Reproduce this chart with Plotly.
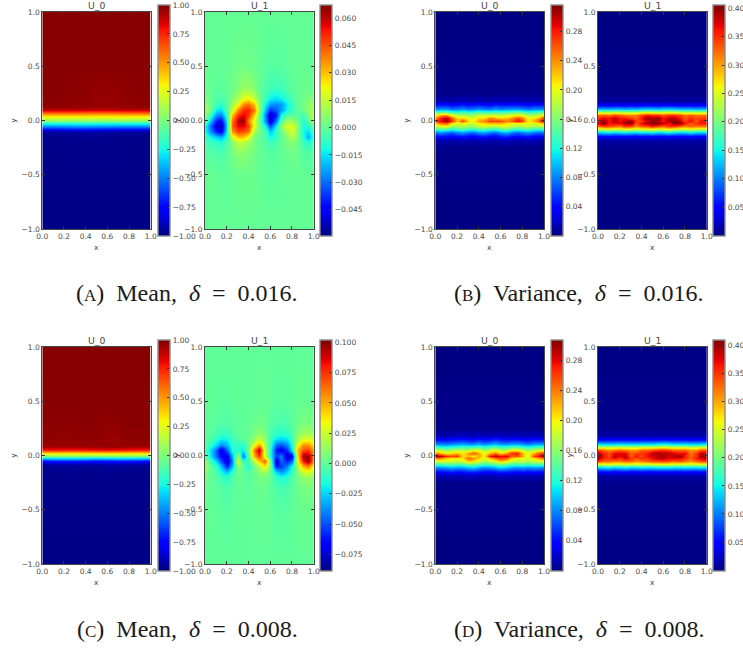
import numpy as np
import plotly.graph_objects as go

W, H = 743, 649

# ---------- coordinates of the sampled fields ----------
M_X = [0, .1, .2, .3, .4, .5, .6, .7, .8, .9, 1]
M_Y = [-1, -.5, -.2, -.15, -.125, -.1, -.075, -.05, -.025, 0, .025, .05, .075, .1, .125, .15, .2, .3, .5, 1]
F_X = [0, .05, .1, .15, .2, .25, .3, .35, .4, .45, .5, .55, .6, .65, .7, .75, .8, .85, .9, .95, 1]
U_Y = [-1, -.5, -.3, -.2, -.15, -.1, -.05, 0, .05, .1, .15, .2, .25, .3, .5, 1]
V_Y = [-1, -.25, -.18, -.14, -.11, -.08, -.05, -.025, 0, .025, .05, .08, .11, .14, .18, .25, 1]

# ---------- mean U_0, delta = 0.016 ----------
MEAN_A_U0 = [
 [-.99]*11,
 [-.985]*11,
 [-.985,-.985,-.98,-.98,-.98,-.98,-.98,-.98,-.985,-.985,-.985],
 [-.98,-.98,-.975,-.975,-.97,-.975,-.975,-.975,-.98,-.98,-.98],
 [-.97,-.97,-.97,-.965,-.96,-.965,-.97,-.97,-.97,-.97,-.97],
 [-.92,-.92,-.91,-.9,-.9,-.91,-.92,-.92,-.92,-.92,-.92],
 [-.72,-.72,-.7,-.69,-.69,-.7,-.71,-.72,-.72,-.72,-.72],
 [-.46,-.46,-.45,-.44,-.44,-.45,-.45,-.46,-.46,-.46,-.46],
 [-.22,-.22,-.22,-.21,-.21,-.22,-.22,-.22,-.22,-.22,-.22],
 [.01,.01,.01,.01,.01,.01,.01,.01,.01,.01,.01],
 [.2,.2,.2,.2,.2,.2,.2,.21,.2,.2,.2],
 [.42,.42,.42,.42,.42,.41,.41,.42,.42,.42,.42],
 [.68,.68,.68,.68,.67,.66,.66,.67,.68,.68,.68],
 [.88,.88,.88,.88,.87,.86,.86,.87,.88,.88,.88],
 [.955,.955,.955,.955,.95,.945,.945,.95,.955,.955,.955],
 [.98,.98,.98,.975,.97,.965,.965,.97,.975,.98,.98],
 [.985,.985,.98,.975,.97,.96,.96,.965,.975,.98,.985],
 [.985,.985,.98,.98,.975,.965,.965,.97,.98,.985,.985],
 [.985]*11,
 [.99]*11,
]
# ---------- mean U_0, delta = 0.008 ----------
MEAN_C_U0 = [
 [-.99]*11,
 [-.985]*11,
 [-.98,-.98,-.975,-.98,-.98,-.98,-.975,-.98,-.98,-.98,-.98],
 [-.975,-.975,-.97,-.975,-.975,-.975,-.965,-.975,-.975,-.975,-.975],
 [-.97,-.965,-.96,-.965,-.97,-.97,-.955,-.965,-.97,-.97,-.97],
 [-.965,-.96,-.955,-.96,-.965,-.965,-.95,-.955,-.965,-.965,-.965],
 [-.93,-.92,-.92,-.92,-.93,-.93,-.92,-.92,-.93,-.93,-.93],
 [-.74,-.71,-.7,-.7,-.72,-.74,-.73,-.71,-.72,-.73,-.74],
 [-.33,-.31,-.3,-.3,-.31,-.34,-.33,-.31,-.31,-.32,-.33],
 [.02,.03,.03,.03,.02,.01,.01,.03,.03,.02,.02],
 [.36,.36,.35,.35,.36,.36,.37,.36,.35,.35,.36],
 [.75,.76,.75,.74,.76,.78,.79,.77,.75,.75,.75],
 [.92,.93,.92,.92,.93,.94,.95,.94,.93,.92,.92],
 [.965,.965,.96,.965,.965,.97,.97,.965,.965,.965,.965],
 [.97,.965,.96,.965,.97,.97,.96,.96,.97,.97,.97],
 [.975,.97,.965,.97,.975,.97,.955,.96,.975,.975,.975],
 [.98,.975,.97,.975,.98,.975,.96,.965,.98,.98,.98],
 [.985,.98,.98,.98,.985,.98,.975,.98,.985,.985,.985],
 [.985]*11,
 [.99]*11,
]
# ---------- mean U_1, delta = 0.016 ----------
MEAN_A_U1 = [
 [0]*21,
 [0,0,0,-.001,-.001,0,.001,.001,.001,.001,0,-.001,-.001,-.001,-.001,0,0,0,0,0,0],
 [-.001,-.002,-.003,-.004,-.001,.003,.006,.006,.004,.002,0,-.001,-.002,-.002,0,.001,.002,.001,-.002,-.003,-.001],
 [-.003,-.006,-.008,-.01,-.004,.006,.014,.014,.009,.004,0,-.002,-.006,-.004,0,.003,.006,.002,-.006,-.01,-.003],
 [-.006,-.012,-.018,-.022,-.008,.018,.03,.03,.02,.004,0,-.004,-.012,-.008,0,.006,.012,.004,-.01,-.022,-.006],
 [-.012,-.025,-.04,-.048,-.012,.036,.048,.046,.042,.012,.002,-.004,-.02,-.008,.001,.012,.018,.006,-.012,-.016,-.003],
 [-.01,-.03,-.048,-.055,-.014,.042,.056,.056,.048,.02,.003,-.012,-.034,-.014,.008,.018,.018,.008,-.012,-.008,.002],
 [0,-.018,-.04,-.045,-.012,.04,.06,.066,.04,.018,.002,-.024,-.05,-.028,-.002,.01,.008,.004,-.012,0,.008],
 [.006,-.005,-.025,-.028,-.006,.03,.05,.056,.05,.028,.004,-.026,-.052,-.04,-.012,-.002,-.003,0,-.006,.004,.014],
 [.01,.003,-.014,-.016,-.002,.015,.038,.05,.052,.04,.008,-.02,-.038,-.032,-.024,-.012,-.006,-.002,.002,.006,.012],
 [.008,.002,-.006,-.008,-.001,.01,.02,.036,.04,.03,.005,-.012,-.024,-.026,-.024,-.014,-.006,-.001,.003,.006,.008],
 [.004,.001,-.003,-.004,-.001,.005,.012,.02,.024,.016,.003,-.006,-.014,-.016,-.014,-.008,-.004,0,.002,.004,.004],
 [.002,0,-.002,-.002,0,.003,.008,.013,.014,.009,.001,-.004,-.009,-.011,-.009,-.005,-.002,0,.001,.002,.002],
 [.001,0,-.001,-.001,0,.002,.005,.008,.008,.005,0,-.003,-.005,-.006,-.005,-.003,-.001,0,.001,.001,.001],
 [0,0,0,0,0,.001,.002,.002,.002,.001,0,-.001,-.002,-.002,-.002,-.001,0,0,0,0,0],
 [0]*21,
]
# ---------- mean U_1, delta = 0.008 ----------
MEAN_C_U1 = [
 [0]*21,
 [.001,0,0,-.001,-.002,-.001,0,0,0,.001,.001,.001,0,-.002,-.002,-.002,0,.001,.002,.002,.001],
 [.003,0,-.001,-.003,-.005,-.002,.001,0,-.001,.001,.002,.002,0,-.004,-.006,-.005,-.001,.002,.005,.006,.004],
 [.006,0,-.002,-.008,-.012,-.005,.002,0,-.002,.001,.005,.006,0,-.01,-.016,-.012,-.003,.004,.012,.014,.008],
 [.01,0,-.005,-.018,-.028,-.012,.004,0,-.004,.002,.01,.015,.002,-.025,-.035,-.025,-.008,.008,.025,.03,.015],
 [.015,0,-.01,-.03,-.06,-.03,.012,-.002,-.014,.004,.02,.04,.005,-.06,-.055,-.04,-.016,.015,.05,.06,.03],
 [.012,-.006,-.025,-.05,-.075,-.04,.03,-.012,-.006,.02,.045,.065,.005,-.075,-.045,-.06,-.045,.03,.08,.1,.05],
 [.002,-.02,-.045,-.065,-.07,-.03,.012,-.045,-.004,.05,.075,.025,-.015,-.055,-.04,-.08,-.065,.035,.095,.098,.055],
 [-.004,-.022,-.045,-.075,-.045,-.015,-.012,-.02,.004,.06,.095,.018,-.012,-.06,-.07,-.055,-.02,.045,.07,.072,.05],
 [-.002,-.01,-.025,-.04,-.03,-.012,-.012,-.012,.002,.03,.055,.016,-.01,-.045,-.05,-.04,-.012,.032,.055,.055,.038],
 [0,-.004,-.012,-.02,-.018,-.008,-.003,-.002,.002,.012,.025,.01,-.008,-.022,-.026,-.022,-.008,.015,.028,.03,.022],
 [0,-.002,-.006,-.01,-.01,-.005,0,0,.001,.006,.012,.006,-.006,-.012,-.014,-.012,-.004,.008,.016,.016,.012],
 [0,-.001,-.004,-.006,-.006,-.003,0,0,.001,.004,.008,.004,-.004,-.008,-.009,-.008,-.002,.005,.01,.01,.008],
 [0,0,-.002,-.003,-.003,-.002,0,0,0,.002,.004,.002,-.002,-.004,-.005,-.004,-.001,.003,.006,.006,.004],
 [0,0,0,-.001,-.001,0,0,0,0,0,.001,.001,0,-.001,-.001,-.001,0,.001,.001,.001,.001],
 [0]*21,
]
# ---------- variance U_0, delta = 0.016 ----------
VAR_B_U0 = [
 [0]*21,
 [.002]*21,
 [.012,.014,.012,.01,.012,.014,.012,.01,.012,.014,.011,.01,.014,.016,.012,.01,.012,.014,.012,.011,.012],
 [.042,.046,.042,.036,.044,.048,.04,.038,.046,.05,.04,.038,.048,.054,.044,.038,.044,.048,.04,.038,.042],
 [.078,.088,.08,.072,.084,.09,.08,.074,.09,.092,.08,.074,.09,.1,.084,.074,.084,.09,.08,.074,.078],
 [.132,.145,.138,.125,.135,.142,.13,.128,.14,.142,.132,.128,.144,.152,.135,.128,.135,.142,.13,.128,.132],
 [.18,.2,.205,.175,.17,.18,.17,.17,.185,.19,.185,.18,.19,.195,.18,.175,.18,.185,.175,.175,.185],
 [.225,.25,.26,.215,.19,.21,.19,.185,.21,.215,.225,.225,.23,.215,.205,.205,.205,.2,.195,.21,.235],
 [.27,.285,.31,.275,.22,.265,.215,.205,.235,.245,.265,.265,.265,.245,.255,.285,.265,.205,.225,.255,.3],
 [.245,.28,.305,.26,.215,.22,.2,.195,.215,.215,.245,.23,.22,.225,.24,.265,.245,.205,.21,.23,.28],
 [.2,.235,.24,.2,.18,.175,.17,.17,.185,.185,.19,.185,.18,.19,.195,.205,.2,.175,.175,.185,.215],
 [.14,.15,.15,.135,.13,.135,.13,.13,.14,.135,.135,.14,.135,.14,.145,.15,.145,.13,.135,.14,.145],
 [.08,.086,.086,.075,.08,.086,.075,.08,.086,.08,.077,.088,.08,.086,.086,.088,.083,.077,.083,.083,.086],
 [.046,.048,.048,.04,.046,.05,.042,.046,.05,.046,.042,.052,.046,.048,.048,.05,.046,.042,.048,.048,.048],
 [.014,.014,.014,.012,.014,.016,.012,.014,.016,.014,.012,.016,.014,.014,.014,.016,.014,.012,.014,.014,.014],
 [.002]*21,
 [0]*21,
]
# ---------- variance U_1, delta = 0.016 ----------
VAR_B_U1 = [
 [0]*21,
 [.002]*21,
 [.012,.012,.014,.012,.012,.014,.012,.012,.014,.012,.014,.012,.012,.014,.012,.012,.012,.014,.012,.012,.012],
 [.05,.052,.055,.05,.052,.056,.05,.05,.055,.052,.056,.05,.052,.056,.052,.05,.05,.055,.05,.05,.05],
 [.14,.14,.15,.14,.145,.15,.14,.14,.15,.145,.155,.14,.145,.155,.145,.14,.14,.15,.14,.14,.14],
 [.24,.245,.25,.24,.245,.26,.25,.24,.25,.25,.26,.245,.25,.265,.25,.24,.24,.25,.24,.24,.24],
 [.32,.345,.34,.33,.32,.35,.34,.31,.33,.34,.36,.34,.33,.35,.35,.33,.31,.33,.32,.32,.32],
 [.38,.4,.36,.37,.37,.39,.4,.33,.37,.39,.4,.405,.38,.36,.4,.4,.36,.33,.35,.36,.36],
 [.36,.4,.36,.385,.36,.39,.4,.34,.34,.38,.4,.385,.36,.39,.405,.38,.34,.37,.33,.37,.35],
 [.35,.37,.36,.385,.36,.36,.34,.33,.36,.4,.385,.4,.36,.385,.385,.36,.33,.35,.34,.34,.35],
 [.325,.33,.325,.34,.33,.315,.315,.315,.34,.36,.35,.35,.335,.35,.35,.34,.32,.33,.32,.32,.325],
 [.23,.235,.23,.24,.235,.23,.23,.23,.245,.25,.245,.24,.245,.25,.245,.24,.23,.235,.23,.235,.23],
 [.12,.125,.12,.125,.125,.12,.125,.12,.13,.135,.13,.125,.135,.135,.13,.125,.125,.125,.12,.125,.12],
 [.045,.048,.045,.048,.048,.045,.05,.046,.05,.052,.05,.046,.052,.052,.05,.048,.048,.048,.046,.048,.045],
 [.01]*21,
 [.002]*21,
 [0]*21,
]
# ---------- variance U_0, delta = 0.008 ----------
VAR_D_U0 = [
 [0]*21,
 [.002]*21,
 [.014,.014,.016,.016,.014,.016,.018,.018,.016,.014,.014,.016,.018,.016,.016,.014,.016,.014,.016,.014,.014],
 [.044,.044,.048,.052,.046,.048,.054,.056,.05,.044,.044,.05,.056,.052,.048,.044,.05,.044,.048,.046,.044],
 [.082,.085,.09,.098,.088,.09,.1,.105,.092,.084,.086,.094,.106,.1,.09,.084,.092,.084,.09,.088,.084],
 [.13,.135,.14,.145,.135,.14,.15,.15,.14,.13,.135,.145,.155,.145,.135,.13,.14,.13,.135,.135,.135],
 [.18,.19,.185,.185,.18,.185,.215,.21,.185,.17,.18,.19,.22,.2,.18,.175,.18,.17,.18,.185,.19],
 [.24,.235,.215,.205,.205,.205,.25,.23,.215,.185,.215,.245,.26,.25,.215,.195,.195,.185,.205,.225,.25],
 [.305,.295,.265,.255,.265,.205,.22,.2,.225,.2,.27,.295,.275,.285,.245,.255,.225,.18,.255,.275,.305],
 [.24,.22,.2,.21,.22,.2,.23,.25,.225,.19,.22,.24,.21,.23,.265,.27,.22,.19,.22,.25,.265],
 [.18,.175,.16,.17,.175,.175,.17,.195,.19,.165,.18,.195,.17,.175,.2,.2,.18,.16,.175,.19,.195],
 [.13,.125,.12,.125,.13,.135,.13,.135,.14,.125,.135,.145,.13,.13,.14,.14,.13,.12,.13,.135,.135],
 [.08,.078,.076,.08,.084,.088,.082,.08,.09,.08,.086,.094,.084,.082,.086,.088,.082,.076,.084,.086,.084],
 [.044,.042,.042,.044,.048,.052,.046,.044,.052,.044,.048,.056,.048,.046,.048,.05,.044,.042,.048,.048,.046],
 [.014,.014,.012,.014,.016,.018,.014,.014,.018,.014,.016,.018,.016,.014,.016,.016,.014,.014,.016,.016,.014],
 [.002]*21,
 [0]*21,
]
# ---------- variance U_1, delta = 0.008 ----------
VAR_D_U1 = [
 [0]*21,
 [.003]*21,
 [.014,.014,.016,.014,.014,.016,.014,.014,.016,.014,.014,.016,.014,.016,.014,.014,.016,.014,.014,.016,.014],
 [.058,.06,.064,.058,.06,.064,.058,.06,.064,.06,.06,.064,.062,.064,.06,.06,.064,.06,.06,.064,.058],
 [.14,.145,.15,.14,.145,.15,.14,.145,.15,.145,.145,.15,.15,.15,.145,.145,.15,.145,.145,.15,.14],
 [.25,.255,.26,.25,.25,.26,.25,.25,.255,.25,.255,.26,.26,.26,.25,.25,.255,.25,.25,.26,.25],
 [.35,.33,.33,.32,.32,.33,.33,.31,.32,.33,.34,.34,.35,.34,.33,.34,.32,.31,.33,.34,.35],
 [.395,.36,.35,.37,.35,.38,.35,.34,.355,.35,.37,.385,.385,.375,.375,.37,.355,.33,.36,.38,.395],
 [.405,.37,.34,.39,.37,.39,.33,.37,.34,.37,.375,.39,.4,.375,.39,.4,.36,.33,.35,.4,.39],
 [.395,.36,.34,.37,.375,.375,.33,.345,.35,.36,.39,.395,.385,.39,.375,.365,.375,.32,.35,.39,.375],
 [.345,.33,.31,.32,.33,.32,.31,.31,.33,.33,.34,.35,.355,.345,.33,.33,.33,.31,.31,.34,.34],
 [.245,.24,.24,.24,.245,.24,.24,.24,.245,.25,.25,.255,.26,.25,.245,.245,.245,.24,.24,.25,.25],
 [.14,.135,.135,.135,.14,.135,.135,.135,.14,.14,.14,.145,.15,.145,.14,.14,.14,.135,.135,.14,.14],
 [.058,.056,.056,.058,.06,.058,.058,.056,.06,.06,.058,.062,.064,.062,.06,.058,.06,.056,.058,.058,.058],
 [.014]*21,
 [.003]*21,
 [0]*21,
]

# ---------- colour ranges and tick labels ----------
RANGE_MEAN_U0 = (-1.0, 1.0)
RANGE_A_U1 = (-.0594, .0671)
RANGE_C_U1 = (-.0887, .1019)
RANGE_B_U0 = (-.0008, .3167)
RANGE_B_U1 = (-.001, .4058)
RANGE_D_U0 = (-.0008, .3076)
RANGE_D_U1 = (-.0016, .41)

TICKS_MEAN_U0 = [-1, -.75, -.5, -.25, 0, .25, .5, .75, 1]
TEXT_MEAN_U0 = ["−1.00", "−0.75", "−0.50", "−0.25", "0.00", "0.25", "0.50", "0.75", "1.00"]
TICKS_A_U1 = [-.045, -.03, -.015, 0, .015, .03, .045, .06]
TEXT_A_U1 = ["−0.045", "−0.030", "−0.015", "0.000", "0.015", "0.030", "0.045", "0.060"]
TICKS_C_U1 = [-.075, -.05, -.025, 0, .025, .05, .075, .1]
TEXT_C_U1 = ["−0.075", "−0.050", "−0.025", "0.000", "0.025", "0.050", "0.075", "0.100"]
TICKS_VAR_U0 = [.04, .08, .12, .16, .2, .24, .28]
TEXT_VAR_U0 = ["0.04", "0.08", "0.12", "0.16", "0.20", "0.24", "0.28"]
TICKS_VAR_U1 = [.05, .1, .15, .2, .25, .3, .35, .4]
TEXT_VAR_U1 = ["0.05", "0.10", "0.15", "0.20", "0.25", "0.30", "0.35", "0.40"]

AXIS_TICKS_X = [0, .2, .4, .6, .8, 1]
AXIS_TEXT_X = ["0.0", "0.2", "0.4", "0.6", "0.8", "1.0"]
AXIS_TICKS_Y = [-1, -.5, 0, .5, 1]
AXIS_TEXT_Y = ["−1.0", "−0.5", "0.0", "0.5", "1.0"]

CAPTIONS = [
    ("A", "Mean", "0.016", 186.5, 293),
    ("B", "Variance", "0.016", 579, 293),
    ("C", "Mean", "0.008", 187, 628.5),
    ("D", "Variance", "0.008", 579, 628.5),
]

# matplotlib "jet"
JET_R = ([0, .35, .66, .89, 1], [0, 0, 1, 1, .5])
JET_G = ([0, .125, .375, .64, .91, 1], [0, 0, 1, 1, 0, 0])
JET_B = ([0, .11, .34, .65, 1], [.5, 1, 1, 0, 0])
stops = sorted(set(JET_R[0] + JET_G[0] + JET_B[0]))
JET = [[s, "rgb(%d,%d,%d)" % tuple(round(255 * np.interp(s, *c)) for c in (JET_R, JET_G, JET_B))] for s in stops]

TEXT = "#4a4a4a"
FRAME = "rgba(0,0,0,0.72)"
SMALL = dict(size=7.5, color=TEXT, family="DejaVu Sans")

# (left, right, bar left, bar right) of each plot, in pixels
COLS = [(42.3, 150.7, 157.7, 169.3), (205, 313.7, 320.3, 332),
        (435.3, 544, 550.7, 562.7), (598, 706.7, 713.3, 725.3)]
# (plot top, plot bottom, bar top, bar bottom)
ROWS = [(12, 229, 5, 236.3), (347, 564, 340, 571.3)]

PANELS = [
    (0, 0, M_X, M_Y, MEAN_A_U0, RANGE_MEAN_U0, TICKS_MEAN_U0, TEXT_MEAN_U0, "U_0"),
    (0, 1, F_X, U_Y, MEAN_A_U1, RANGE_A_U1, TICKS_A_U1, TEXT_A_U1, "U_1"),
    (0, 2, F_X, V_Y, VAR_B_U0, RANGE_B_U0, TICKS_VAR_U0, TEXT_VAR_U0, "U_0"),
    (0, 3, F_X, V_Y, VAR_B_U1, RANGE_B_U1, TICKS_VAR_U1, TEXT_VAR_U1, "U_1"),
    (1, 0, M_X, M_Y, MEAN_C_U0, RANGE_MEAN_U0, TICKS_MEAN_U0, TEXT_MEAN_U0, "U_0"),
    (1, 1, F_X, U_Y, MEAN_C_U1, RANGE_C_U1, TICKS_C_U1, TEXT_C_U1, "U_1"),
    (1, 2, F_X, V_Y, VAR_D_U0, RANGE_D_U0, TICKS_VAR_U0, TEXT_VAR_U0, "U_0"),
    (1, 3, F_X, V_Y, VAR_D_U1, RANGE_D_U1, TICKS_VAR_U1, TEXT_VAR_U1, "U_1"),
]

fig = go.Figure()
layout = {}
annotations = []
for i, (r, c, xs, ys, z, zr, tv, tt, title) in enumerate(PANELS, start=1):
    L, R, BL, BR = COLS[c]
    T, B, BT, BB = ROWS[r]
    fig.add_trace(go.Heatmap(
        x=xs, y=ys, z=z, zmin=zr[0], zmax=zr[1], zsmooth="best", colorscale=JET,
        xaxis=f"x{i}", yaxis=f"y{i}",
        colorbar=dict(
            x=BL / W, xanchor="left", y=1 - BT / H, yanchor="top", xpad=0, ypad=0,
            thicknessmode="pixels", thickness=BR - BL, lenmode="pixels", len=BB - BT,
            tickmode="array", tickvals=tv, ticktext=tt, ticks="inside", ticklen=3,
            tickcolor="#333", tickwidth=1, tickfont=SMALL,
            outlinecolor="#8c8c8c", outlinewidth=1.4,
        ),
    ))
    common = dict(
        ticks="inside", ticklen=3, tickcolor="#333", tickwidth=1, showgrid=False, zeroline=False,
        showline=True, linecolor=FRAME, linewidth=1, mirror="ticks",
        tickfont=SMALL, tickmode="array",
    )
    sx = "" if i == 1 else str(i)
    layout[f"xaxis{sx}"] = dict(common, domain=[L / W, R / W], anchor=f"y{sx}", range=[0, 1],
                                tickvals=AXIS_TICKS_X, ticktext=AXIS_TEXT_X)
    layout[f"yaxis{sx}"] = dict(common, domain=[1 - B / H, 1 - T / H], anchor=f"x{sx}", range=[-1, 1],
                                tickvals=AXIS_TICKS_Y, ticktext=AXIS_TEXT_Y)
    annotations.append(dict(text=title, xref="paper", yref="paper", x=(L + R) / 2 / W, y=1 - (T - 6.5) / H,
                            xanchor="center", yanchor="middle", showarrow=False,
                            font=dict(size=9.3, color=TEXT, family="DejaVu Sans")))
    annotations.append(dict(text="x", xref="paper", yref="paper", x=(L + R) / 2 / W, y=1 - (B + 18.5) / H,
                            xanchor="center", yanchor="middle", showarrow=False, font=SMALL))
    annotations.append(dict(text="y", xref="paper", yref="paper", x=(L - 29) / W, y=1 - (T + B) / 2 / H,
                            xanchor="center", yanchor="middle", showarrow=False, textangle=-90, font=SMALL))

NB = "\u00a0"
for letter, name, delta, cx, cy in CAPTIONS:
    text = (f"(<span style='font-size:17px'>{letter}</span>){NB} {name},{NB} <i>δ</i>{NB} ={NB} {delta}.")
    annotations.append(dict(text=text, xref="paper", yref="paper", x=cx / W, y=1 - cy / H,
                            xanchor="center", yanchor="middle", showarrow=False,
                            font=dict(size=24, color="#1a1a1a", family="Liberation Serif")))

fig.update_layout(width=W, height=H, margin=dict(l=0, r=0, t=0, b=0, autoexpand=False),
                  paper_bgcolor="white", plot_bgcolor="white", showlegend=False,
                  annotations=annotations, **layout)
fig.write_html("out.html", config={"displayModeBar": False},
               post_script="document.body.style.margin='0';document.documentElement.style.overflow='hidden';")
